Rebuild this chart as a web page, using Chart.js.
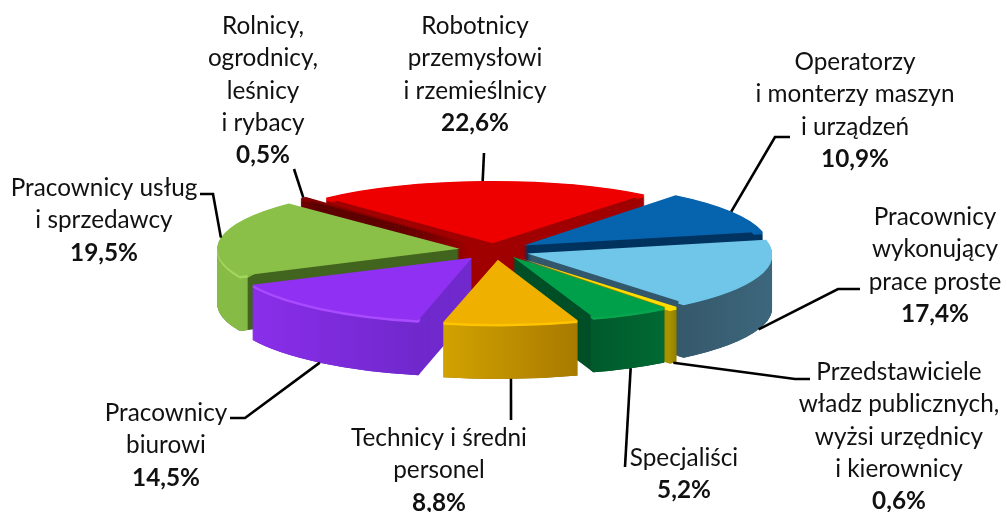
<!DOCTYPE html>
<html><head><meta charset="utf-8">
<style>html,body{margin:0;padding:0;background:#fff}canvas{display:block}</style>
<script src="https://cdn.jsdelivr.net/npm/chart.js@4"></script>
</head><body><canvas id="c" width="1007" height="512"></canvas>
<script>
const categories = ["Robotnicy przemysłowi i rzemieślnicy","Operatorzy i monterzy maszyn i urządzeń","Pracownicy wykonujący prace proste","Przedstawiciele władz publicznych, wyżsi urzędnicy i kierownicy","Specjaliści","Technicy i średni personel","Pracownicy biurowi","Pracownicy usług i sprzedawcy","Rolnicy, ogrodnicy, leśnicy i rybacy"];
const values = [22.6,10.9,17.4,0.6,5.2,8.8,14.5,19.5,0.5];
const labelLines = [["Robotnicy","przemysłowi","i rzemieślnicy"],["Operatorzy","i monterzy maszyn","i urządzeń"],["Pracownicy","wykonujący","prace proste"],["Przedstawiciele","władz publicznych,","wyżsi urzędnicy","i kierownicy"],["Specjaliści"],["Technicy i średni","personel"],["Pracownicy","biurowi"],["Pracownicy usług","i sprzedawcy"],["Rolnicy,","ogrodnicy,","leśnicy","i rybacy"]];
const topColors = ["#EE0000","#0663AE","#6FC6E9","#FFDD00","#00A04A","#F0B000","#9030F2","#8ABF48","#850000"];
const cutColors = ["#A00000","#00335F","#33586C","#9A8600","#004F27","#8C6800","#7029CC","#42651F","#5E0000"];
const rimLeft   = ["#A00000","#00335F","#36596C","#A89200","#005A2C","#D2A200","#8A2EEA","#86BC46","#6A0000"];
const rimRight  = ["#A00000","#00335F","#3C667C","#8F7C00","#006A33","#A87A00","#7028CC","#6FA238","#6A0000"];
const bevel     = ["#EE0000","#0663AE","#6FC6E9","#FFDD00","#0AA650","#FFC400","#A94CFF","#A4D660","#850000"];
const labelCenterX = [475,855,935,899,684,439,166,104,263];
const labelTopY = [26,62,217,372,458,438,413,188,26];
const lineStep = 32.4;
const leaderWall = [0,0,1,1,1,1,1,0,0];
const leaderPath = [[[484,153]],[[790,137],[775,137]],[[860,289],[838,289]],[[810,379],[795,379]],[[625,467]],[[511,420]],[[230,418],[245,418]],[[200,194],[213,194]],[[294,169]]];
const sliceDX = [0,0,0,3,2,2,0,0,0];
const sliceDY = [2,0,0,0,-2,0,0,0,0];
const sliceSX = [1.02,1.02,1.02,1.03,1.04,1.03,1.01,1.01,1];
const sliceSY = [.97,1,1,1,1,1,1,1,1];
const SQUASH = .267, EXPLODE = 35, DEPTH = 55;
const FONT = '"Lato","Liberation Sans",sans-serif', FS = 24.3;

function tip(arc,i){
  const m=(arc.startAngle+arc.endAngle)/2;
  return {x:arc.x+Math.cos(m)*EXPLODE+sliceDX[i], y:arc.y+Math.sin(m)*EXPLODE*SQUASH+sliceDY[i]};
}
function place(ctx, arc, i, d){
  const t=tip(arc,i);
  ctx.translate(t.x, t.y+d);
  ctx.scale(sliceSX[i],SQUASH*sliceSY[i]);
  ctx.translate(-arc.x,-arc.y);
}
function drawAs(ctx, arc, fill, inner){
  const o=arc.options, ir=arc.innerRadius;
  arc.options=Object.assign({},o,{backgroundColor:fill,borderWidth:0,borderColor:fill,offset:0,spacing:0});
  arc.innerRadius=inner||0;
  arc.draw(ctx);
  arc.options=o; arc.innerRadius=ir;
}
const pie3d={id:'pie3d',
  beforeDatasetsDraw(chart){
    const ctx=chart.ctx, arcs=chart.getDatasetMeta(0).data.slice();
    const order=arcs.map((a,i)=>i).sort((p,q)=>Math.sin((arcs[p].startAngle+arcs[p].endAngle)/2)-Math.sin((arcs[q].startAngle+arcs[q].endAngle)/2));
    order.forEach(i=>{
      const arc=arcs[i], R=arc.outerRadius;
      const xs=[Math.cos(arc.startAngle),Math.cos(arc.endAngle)];
      const g=ctx.createLinearGradient(arc.x+R*Math.min(...xs),0,arc.x+R*Math.max(...xs),0);
      g.addColorStop(0,rimLeft[i]); g.addColorStop(1,rimRight[i]);
      for(let d=DEPTH;d>0;d--){ctx.save();place(ctx,arc,i,d);drawAs(ctx,arc,cutColors[i]);ctx.restore();}
      for(let d=DEPTH;d>0;d-=.5){ctx.save();place(ctx,arc,i,d);drawAs(ctx,arc,d<3?bevel[i]:g,R-9);ctx.restore();}
      ctx.save();place(ctx,arc,i,0);drawAs(ctx,arc,topColors[i]);ctx.restore();
    });
    return false;
  },
  afterDraw(chart){
    const ctx=chart.ctx, arcs=chart.getDatasetMeta(0).data;
    ctx.save();
    ctx.strokeStyle='#000';ctx.lineWidth=2.6;ctx.lineJoin='miter';
    arcs.forEach((arc,i)=>{
      const m=(arc.startAngle+arc.endAngle)/2, t=tip(arc,i);
      const ax=t.x+Math.cos(m)*arc.outerRadius*sliceSX[i], ay=t.y+Math.sin(m)*arc.outerRadius*SQUASH*sliceSY[i]+leaderWall[i]*DEPTH;
      ctx.beginPath();
      leaderPath[i].forEach((p,j)=>j?ctx.lineTo(p[0],p[1]):ctx.moveTo(p[0],p[1]));
      ctx.lineTo(ax,ay);ctx.stroke();
    });
    ctx.fillStyle='#111';ctx.textAlign='center';ctx.textBaseline='middle';
    labelLines.forEach((ls,i)=>{
      let y=labelTopY[i];
      ctx.font=FS+'px '+FONT;
      ls.forEach(l=>{ctx.fillText(l,labelCenterX[i],y);y+=lineStep;});
      ctx.font='bold '+FS+'px '+FONT;
      ctx.fillText(values[i].toFixed(1).replace('.',',')+'%',labelCenterX[i],y);
    });
    ctx.restore();
  }
};
new Chart(document.getElementById('c'),{type:'pie',plugins:[pie3d],
  data:{labels:categories,datasets:[{data:values,backgroundColor:topColors,borderWidth:0}]},
  options:{responsive:false,animation:false,rotation:-43,radius:240,
    layout:{padding:{right:19,bottom:11}},
    plugins:{legend:{display:false},tooltip:{enabled:false}}}});
</script></body></html>
